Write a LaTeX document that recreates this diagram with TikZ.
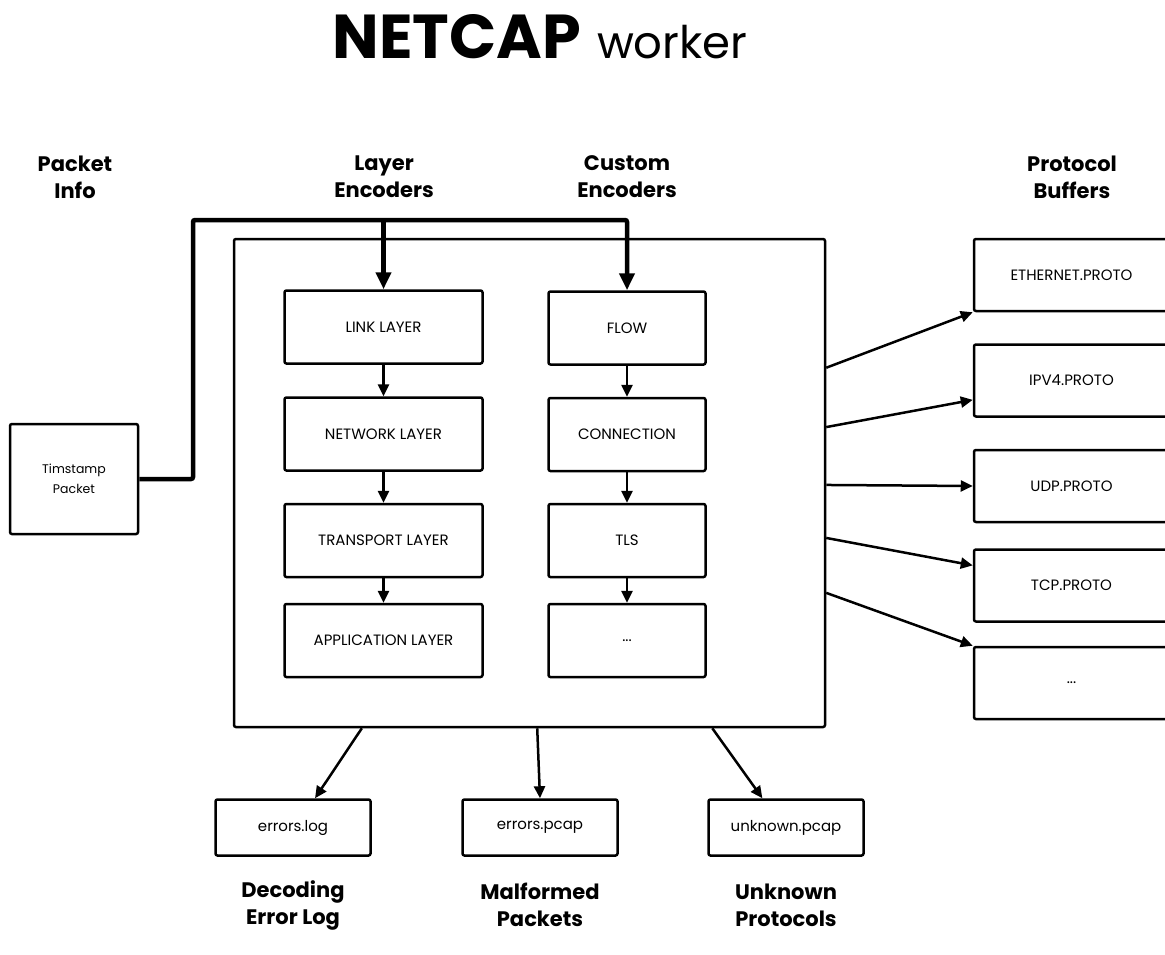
\documentclass[tikz,border=0pt]{standalone}
\usepackage{fontspec}
\setmainfont{Poppins}
\usetikzlibrary{arrows.meta,calc}

\begin{document}
\begin{tikzpicture}[x=1pt,y=-1pt,
        box/.style={draw,line width=2.5pt,rounded corners=2pt,inner sep=0pt,align=center,font=\fontsize{15}{20}\selectfont},
        laybox/.style={box,minimum width=198pt,minimum height=73pt},
        encbox/.style={box,minimum width=157pt,minimum height=73pt},
        protobox/.style={box,minimum width=195pt,minimum height=72pt},
        filebox/.style={box,minimum width=155pt,minimum height=56pt},
        heading/.style={align=center,font=\fontsize{21}{27}\selectfont\bfseries},
        flow/.style={-{Triangle[length=12pt,width=11pt]},line width=2.5pt},
        feed/.style={-{Triangle[length=17pt,width=15pt]},line width=4.5pt,rounded corners=2pt}]
        \useasboundingbox (0,0) rectangle (1165,955);

        \node (Title) at (540,59) [anchor=base] {\fontsize{62}{62}\selectfont\bfseries NETCAP\hspace{16pt}\fontsize{45}{45}\selectfont\mdseries worker};

        \node (Hinfo)   at (75,177)   [heading] {Packet\\Info};
        \node (Hlayer)  at (384,177)  [heading] {Layer\\Encoders};
        \node (Hcustom) at (627,177)  [heading] {Custom\\Encoders};
        \node (Hproto)  at (1072,177) [heading] {Protocol\\Buffers};
        \node (Herrlog) at (293,905)  [heading] {Decoding\\Error Log};
        \node (Herrcap) at (540,905)  [heading] {Malformed\\Packets};
        \node (Hunkn)   at (786,905)  [heading] {Unknown\\Protocols};

        \node (Worker)  at (529.5,483) [box,minimum width=591pt,minimum height=488pt] {};
        \node (Tpacket) at (74,479)    [box,minimum width=128pt,minimum height=110pt,font=\fontsize{12.5}{20}\selectfont] {Timstamp\\Packet};

        \node (Llink)      at (383.5,327)   [laybox] {LINK LAYER};
        \node (Lnetwork)   at (383.5,434)   [laybox] {NETWORK LAYER};
        \node (Ltransport) at (383.5,540.5) [laybox] {TRANSPORT LAYER};
        \node (Lapp)       at (383.5,640.5) [laybox] {APPLICATION LAYER};
        \node (Cflow)      at (627,328)     [encbox] {FLOW};
        \node (Cconn)      at (627,434.5)   [encbox] {CONNECTION};
        \node (Ctls)       at (627,540.5)   [encbox] {TLS};
        \node (Cmore)      at (627,640.5)   [encbox] {...};

        \node (Peth)  at (1071.5,275)   [protobox] {ETHERNET.PROTO};
        \node (Pipv4) at (1071.5,380.5) [protobox] {IPV4.PROTO};
        \node (Pudp)  at (1071.5,486)   [protobox] {UDP.PROTO};
        \node (Ptcp)  at (1071.5,585.5) [protobox] {TCP.PROTO};
        \node (Pmore) at (1071.5,683)   [protobox] {...};

        \node (Oerrlog)  at (293,827.5) [filebox] {errors.log};
        \node (Oerrpcap) at (540,827.5) [filebox] {errors.pcap};
        \node (Ounknown) at (786,827.5) [filebox] {unknown.pcap};

        % packet info feeding both encoder columns
        \coordinate (Jbend) at (193,220);
        \coordinate (Jsplit) at (Llink.north |- Jbend);
        \draw[feed] (Tpacket.east) -| (Jbend) -| (Cflow.north);
        \draw[feed] (Jsplit) -- (Llink.north);

        \foreach \a/\b in {Llink/Lnetwork,Lnetwork/Ltransport,Ltransport/Lapp,Cflow/Cconn,Cconn/Ctls,Ctls/Cmore}
            \draw[flow] (\a.south) -- (\b.north);

        \draw[flow] ($(Worker.north east)!0.265!(Worker.south east)$) -- (Peth.south west);
        \draw[flow] ($(Worker.north east)!0.386!(Worker.south east)$) -- ($(Pipv4.north west)!0.76!(Pipv4.south west)$);
        \draw[flow] ($(Worker.north east)!0.504!(Worker.south east)$) -- (Pudp.west);
        \draw[flow] ($(Worker.north east)!0.612!(Worker.south east)$) -- ($(Ptcp.north west)!0.23!(Ptcp.south west)$);
        \draw[flow] ($(Worker.north east)!0.724!(Worker.south east)$) -- (Pmore.north west);

        \draw[flow] ($(Worker.south west)!0.2175!(Worker.south east)$) -- ($(Oerrlog.north west)!0.64!(Oerrlog.north east)$);
        \draw[flow] ($(Worker.south west)!0.513!(Worker.south east)$) -- (Oerrpcap.north);
        \draw[flow] ($(Worker.south west)!0.808!(Worker.south east)$) -- ($(Ounknown.north west)!0.35!(Ounknown.north east)$);
\end{tikzpicture}
\end{document}
